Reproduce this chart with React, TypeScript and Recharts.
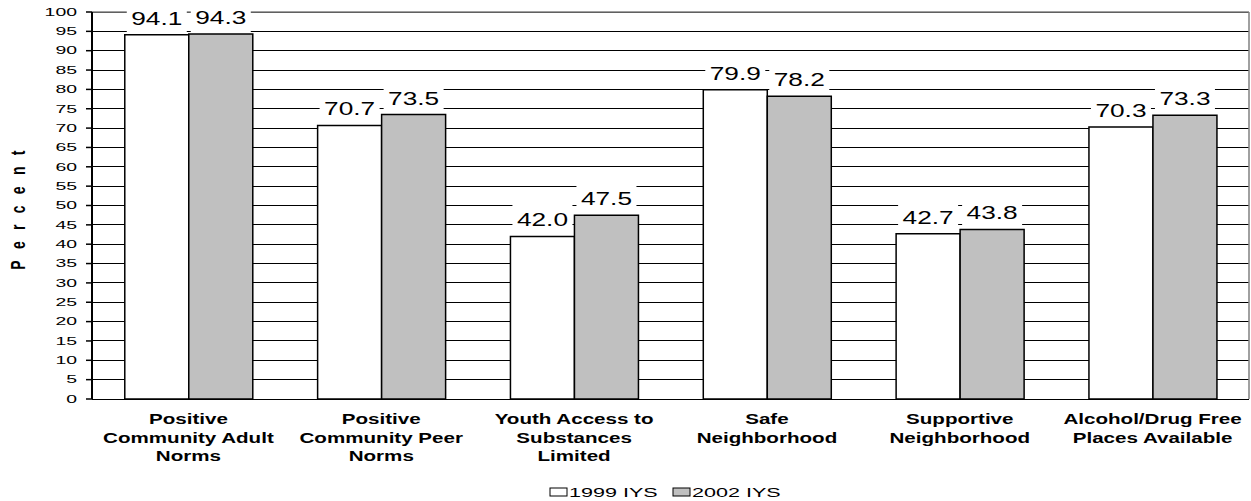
import React from 'react';
import {
  BarChart,
  Bar,
  XAxis,
  YAxis,
  CartesianGrid,
  LabelList,
  Legend,
  ReferenceLine,
} from 'recharts';

const categories = [
  'Positive\nCommunity Adult\nNorms',
  'Positive\nCommunity Peer\nNorms',
  'Youth Access to\nSubstances\nLimited',
  'Safe\nNeighborhood',
  'Supportive\nNeighborhood',
  'Alcohol/Drug Free\nPlaces Available',
];
const iys1999 = [94.1, 70.7, 42.0, 79.9, 42.7, 70.3];
const iys2002 = [94.3, 73.5, 47.5, 78.2, 43.8, 73.3];
const seriesNames = ['1999 IYS', '2002 IYS'];
const seriesColors = ['#FFFFFF', '#C0C0C0'];
const yTicks = [0, 5, 10, 15, 20, 25, 30, 35, 40, 45, 50, 55, 60, 65, 70, 75, 80, 85, 90, 95, 100];
const boundaryTicks = [0, 1, 2, 3, 4, 5, 6];

const data = categories.map((name, i) => ({
  name,
  y1999: iys1999[i],
  y2002: iys2002[i],
}));

const FONT = "'Liberation Sans', Arial, Helvetica, sans-serif";

const YTick = (props: any) => {
  const { x, y, payload } = props;
  return (
    <text
      transform={`translate(${x},${y}) scale(1.85,1)`}
      textAnchor="end"
      dy="0.36em"
      fontSize={10.5}
      fontFamily={FONT}
      fill="#000"
    >
      {payload.value}
    </text>
  );
};

const XTick = (props: any) => {
  const { x, y, payload } = props;
  const lines = String(payload.value).split('\n');
  return (
    <g>
      {lines.map((l, i) => (
        <text
          key={i}
          transform={`translate(${x},${y + 25 + i * 18.5}) scale(1.47,1)`}
          textAnchor="middle"
          fontSize={14}
          fontWeight="bold"
          fontFamily={FONT}
          fill="#000"
        >
          {l}
        </text>
      ))}
    </g>
  );
};

const ValueLabel = (props: any) => {
  const { x, y, width, value } = props;
  const cx = Number(x) + Number(width) / 2;
  return (
    <g>
      <rect x={Number(x) + 2} y={Number(y) - 33} width={Number(width) - 4} height={31} fill="#fff" />
      <text
        transform={`translate(${cx},${Number(y) - 10}) scale(1.5,1)`}
        textAnchor="middle"
        fontSize={17.5}
        fontFamily={FONT}
        fill="#000"
      >
        {Number(value).toFixed(1)}
      </text>
    </g>
  );
};

const PercentLabel = () => (
  <text
    transform="translate(25,204.5) scale(1.5,1) rotate(-90)"
    textAnchor="middle"
    fontSize={14}
    fontWeight="bold"
    letterSpacing={11.3}
    fontFamily={FONT}
    fill="#000"
  >
    Percent
  </text>
);

const LegendContent = () => (
  <svg width={1251} height={20} style={{ display: 'block' }}>
    {seriesNames.map((n, i) => {
      const x0 = 550 + i * 123;
      return (
        <g key={n}>
          <rect x={x0} y={7} width={17} height={8} fill={seriesColors[i]} stroke="#000" strokeWidth={1} />
          <text
            transform={`translate(${x0 + 19},15.6) scale(1.66,1)`}
            fontSize={13}
            fontFamily={FONT}
            fill="#000"
          >
            {n}
          </text>
        </g>
      );
    })}
  </svg>
);

export default function App() {
  return (
    <div style={{ position: 'absolute', left: 0, top: 0, width: 1251, height: 501, background: '#fff' }}>
      <BarChart
        width={1251}
        height={501}
        data={data}
        margin={{ top: 12, right: 0, left: 0, bottom: 0 }}
        barCategoryGap="17%"
        barGap={0}
      >
        <CartesianGrid horizontal vertical={false} stroke="#000" strokeWidth={1} shapeRendering="crispEdges" />
        <XAxis
          xAxisId="b"
          type="number"
          domain={[0, 6]}
          ticks={boundaryTicks}
          allowDataOverflow
          tick={false}
          tickSize={5}
          height={0}
          axisLine={{ stroke: '#000', strokeWidth: 2 }}
          tickLine={{ stroke: '#000', strokeWidth: 1.5 }}
        />
        <XAxis
          dataKey="name"
          height={82}
          tickLine={false}
          axisLine={false}
          tickSize={0}
          tickMargin={0}
          interval={0}
          tick={XTick}
        />
        <YAxis
          domain={[0, 100]}
          ticks={yTicks}
          interval={0}
          width={92}
          tickSize={6}
          tickMargin={9}
          axisLine={{ stroke: '#000', strokeWidth: 2 }}
          tickLine={{ stroke: '#000', strokeWidth: 1.5 }}
          tick={YTick}
          label={<PercentLabel />}
        />
        <YAxis
          yAxisId="r"
          orientation="right"
          width={2}
          tick={false}
          tickLine={false}
          axisLine={{ stroke: '#808080', strokeWidth: 1.5 }}
        />
        <ReferenceLine y={100} stroke="#808080" strokeWidth={1.5} />
        <Legend verticalAlign="bottom" content={<LegendContent />} />
        <Bar dataKey="y1999" name={seriesNames[0]} fill={seriesColors[0]} stroke="#000" strokeWidth={1.5} isAnimationActive={false}>
          <LabelList dataKey="y1999" content={ValueLabel} />
        </Bar>
        <Bar dataKey="y2002" name={seriesNames[1]} fill={seriesColors[1]} stroke="#000" strokeWidth={1.5} isAnimationActive={false}>
          <LabelList dataKey="y2002" content={ValueLabel} />
        </Bar>
      </BarChart>
    </div>
  );
}
